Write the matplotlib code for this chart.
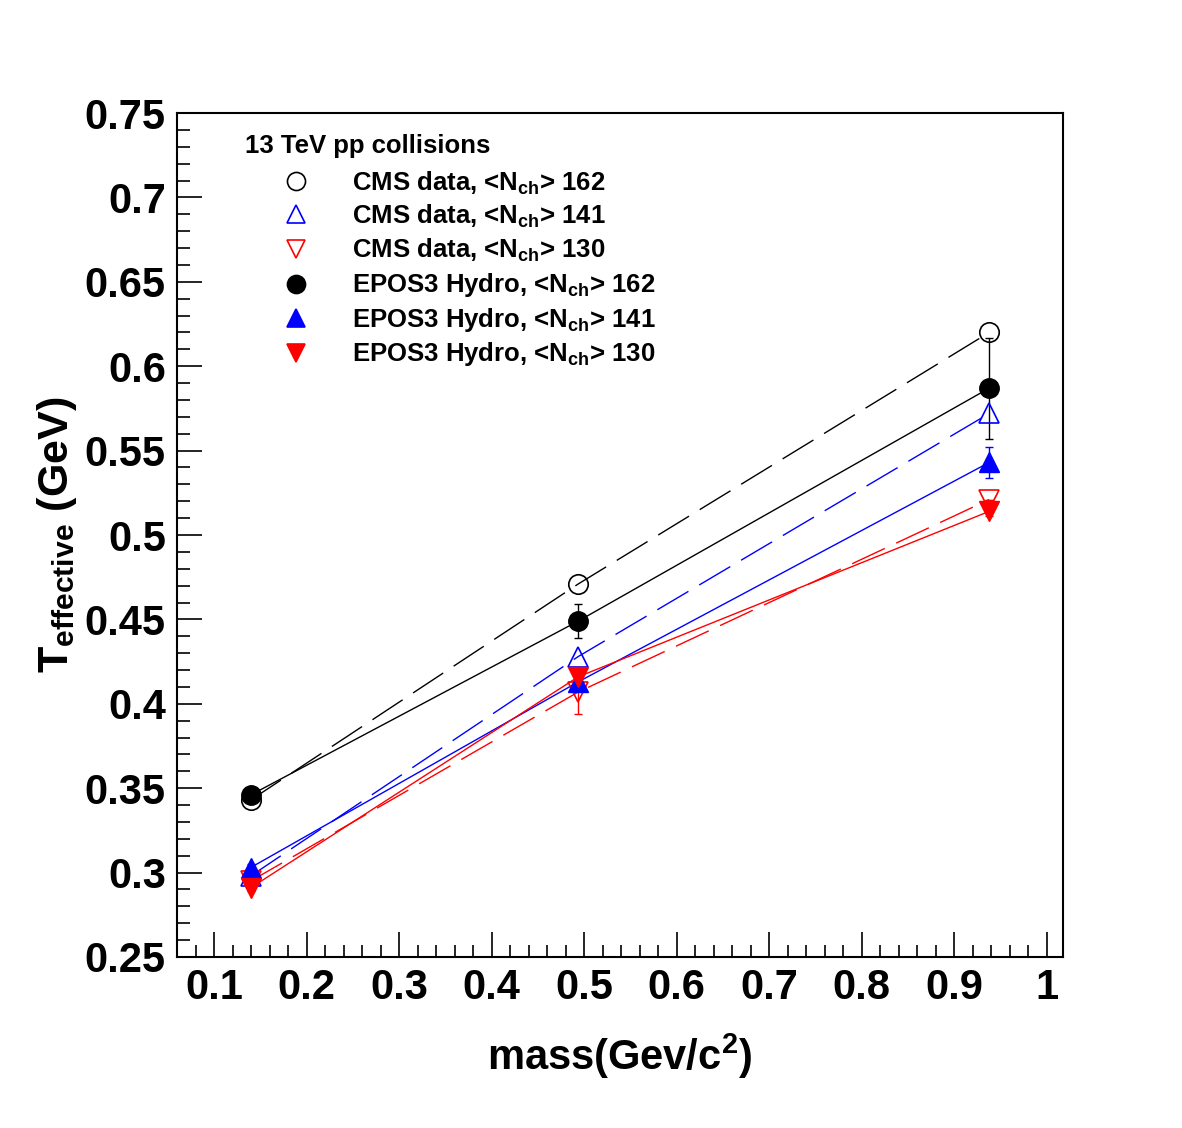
import numpy as np
import matplotlib
matplotlib.use("Agg")
import matplotlib.pyplot as plt
from matplotlib.ticker import MultipleLocator

plt.rcParams['font.family'] = ['Liberation Sans', 'DejaVu Sans']
plt.rcParams['font.weight'] = 'bold'
plt.rcParams['mathtext.fontset'] = 'custom'
plt.rcParams['mathtext.rm'] = 'Liberation Sans:bold'
plt.rcParams['mathtext.it'] = 'Liberation Sans:bold'
plt.rcParams['mathtext.bf'] = 'Liberation Sans:bold'

# particle masses (pi, K, p) in GeV/c^2
mass = [0.1396, 0.4937, 0.938]

# CMS data, effective temperature
cms_162 = [0.343, 0.471, 0.620]
cms_141 = [0.298, 0.428, 0.572]
cms_130 = [0.295, 0.407, 0.521]
cms_130_err = [0.0, 0.013, 0.0]

# EPOS3 hydro
epos_162 = [0.346, 0.449, 0.587]
epos_162_err = [0.002, 0.010, 0.030]
epos_141 = [0.303, 0.413, 0.543]
epos_141_err = [0.002, 0.004, 0.009]
epos_130 = [0.291, 0.416, 0.514]
epos_130_err = [0.002, 0.005, 0.003]

labels = [
    r"CMS data, <N$_{\rm ch}$> 162",
    r"CMS data, <N$_{\rm ch}$> 141",
    r"CMS data, <N$_{\rm ch}$> 130",
    r"EPOS3 Hydro, <N$_{\rm ch}$> 162",
    r"EPOS3 Hydro, <N$_{\rm ch}$> 141",
    r"EPOS3 Hydro, <N$_{\rm ch}$> 130",
]

fig = plt.figure(figsize=(11.82, 11.28), dpi=100)
ax = fig.add_axes([0.1497, 0.1516, 0.7496, 0.7482])

dash = (0, (26, 9))
ms = 14

# dashed lines through data, solid through model
ax.plot(mass, cms_162, color='black', lw=1.0, ls=dash, zorder=2)
ax.plot(mass, cms_141, color='blue', lw=1.0, ls=dash, zorder=2)
ax.plot(mass, cms_130, color='red', lw=1.0, ls=dash, zorder=2)
ax.plot(mass, epos_162, color='black', lw=1.0, zorder=2)
ax.plot(mass, epos_141, color='blue', lw=1.0, zorder=2)
ax.plot(mass, epos_130, color='red', lw=1.0, zorder=2)

ax.errorbar(mass, cms_130, yerr=cms_130_err, fmt='none', ecolor='red', elinewidth=1.0, capsize=3, zorder=3)
ax.errorbar(mass, epos_162, yerr=epos_162_err, fmt='none', ecolor='black', elinewidth=1.0, capsize=3, zorder=3)
ax.errorbar(mass, epos_141, yerr=epos_141_err, fmt='none', ecolor='blue', elinewidth=1.0, capsize=3, zorder=3)
ax.errorbar(mass, epos_130, yerr=epos_130_err, fmt='none', ecolor='red', elinewidth=1.0, capsize=3, zorder=3)

ax.plot(mass, cms_162, 'o', ms=ms, mfc='none', mec='black', mew=1.2, zorder=4)
ax.plot(mass, cms_141, '^', ms=ms, mfc='none', mec='blue', mew=1.2, zorder=4)
ax.plot(mass, cms_130, 'v', ms=ms, mfc='none', mec='red', mew=1.2, zorder=4)
ax.plot(mass, epos_162, 'o', ms=ms, mfc='black', mec='black', zorder=5)
ax.plot(mass, epos_141, '^', ms=ms, mfc='blue', mec='blue', zorder=5)
ax.plot(mass, epos_130, 'v', ms=ms, mfc='red', mec='red', zorder=5)

ax.set_xlim(0.0598, 1.0178)
ax.set_ylim(0.25, 0.75)

ax.xaxis.set_major_locator(MultipleLocator(0.1))
ax.xaxis.set_minor_locator(MultipleLocator(0.02))
ax.yaxis.set_major_locator(MultipleLocator(0.05))
ax.yaxis.set_minor_locator(MultipleLocator(0.01))
ax.xaxis.set_major_formatter(plt.FuncFormatter(lambda v, p: f"{v:g}"))
ax.yaxis.set_major_formatter(plt.FuncFormatter(lambda v, p: f"{v:g}"))

ax.tick_params(which='both', direction='in', top=False, right=False, width=1.2)
ax.tick_params(which='major', length=18, labelsize=30, pad=8)
ax.tick_params(which='minor', length=9)
for s in ax.spines.values():
    s.set_linewidth(1.5)

ax.set_xlabel(r"mass(Gev/c$^{2}$)", fontsize=30, fontweight='bold', labelpad=17)
ax.set_ylabel(r"T$_{\rm effective}$ (GeV)", fontsize=31, fontweight='bold', labelpad=4)

# legend drawn by hand, ROOT style
ax.text(0.077, 0.961, "13 TeV pp collisions", transform=ax.transAxes,
        fontsize=18.5, fontweight='bold', va='center', ha='left')
styles = [('o', 'none', 'black'), ('^', 'none', 'blue'), ('v', 'none', 'red'),
          ('o', 'black', 'black'), ('^', 'blue', 'blue'), ('v', 'red', 'red')]
row_y = [0.917, 0.878, 0.837, 0.796, 0.755, 0.714]
for (m, fc, ec), lab, yy in zip(styles, labels, row_y):
    ax.plot([0.134], [yy + 0.002], m, ms=13, mfc=fc, mec=ec, mew=1.2,
            transform=ax.transAxes, clip_on=False)
    ax.text(0.198, yy, lab, transform=ax.transAxes, fontsize=18.5,
            fontweight='bold', va='center', ha='left')

fig.savefig("out.png", dpi=100)
